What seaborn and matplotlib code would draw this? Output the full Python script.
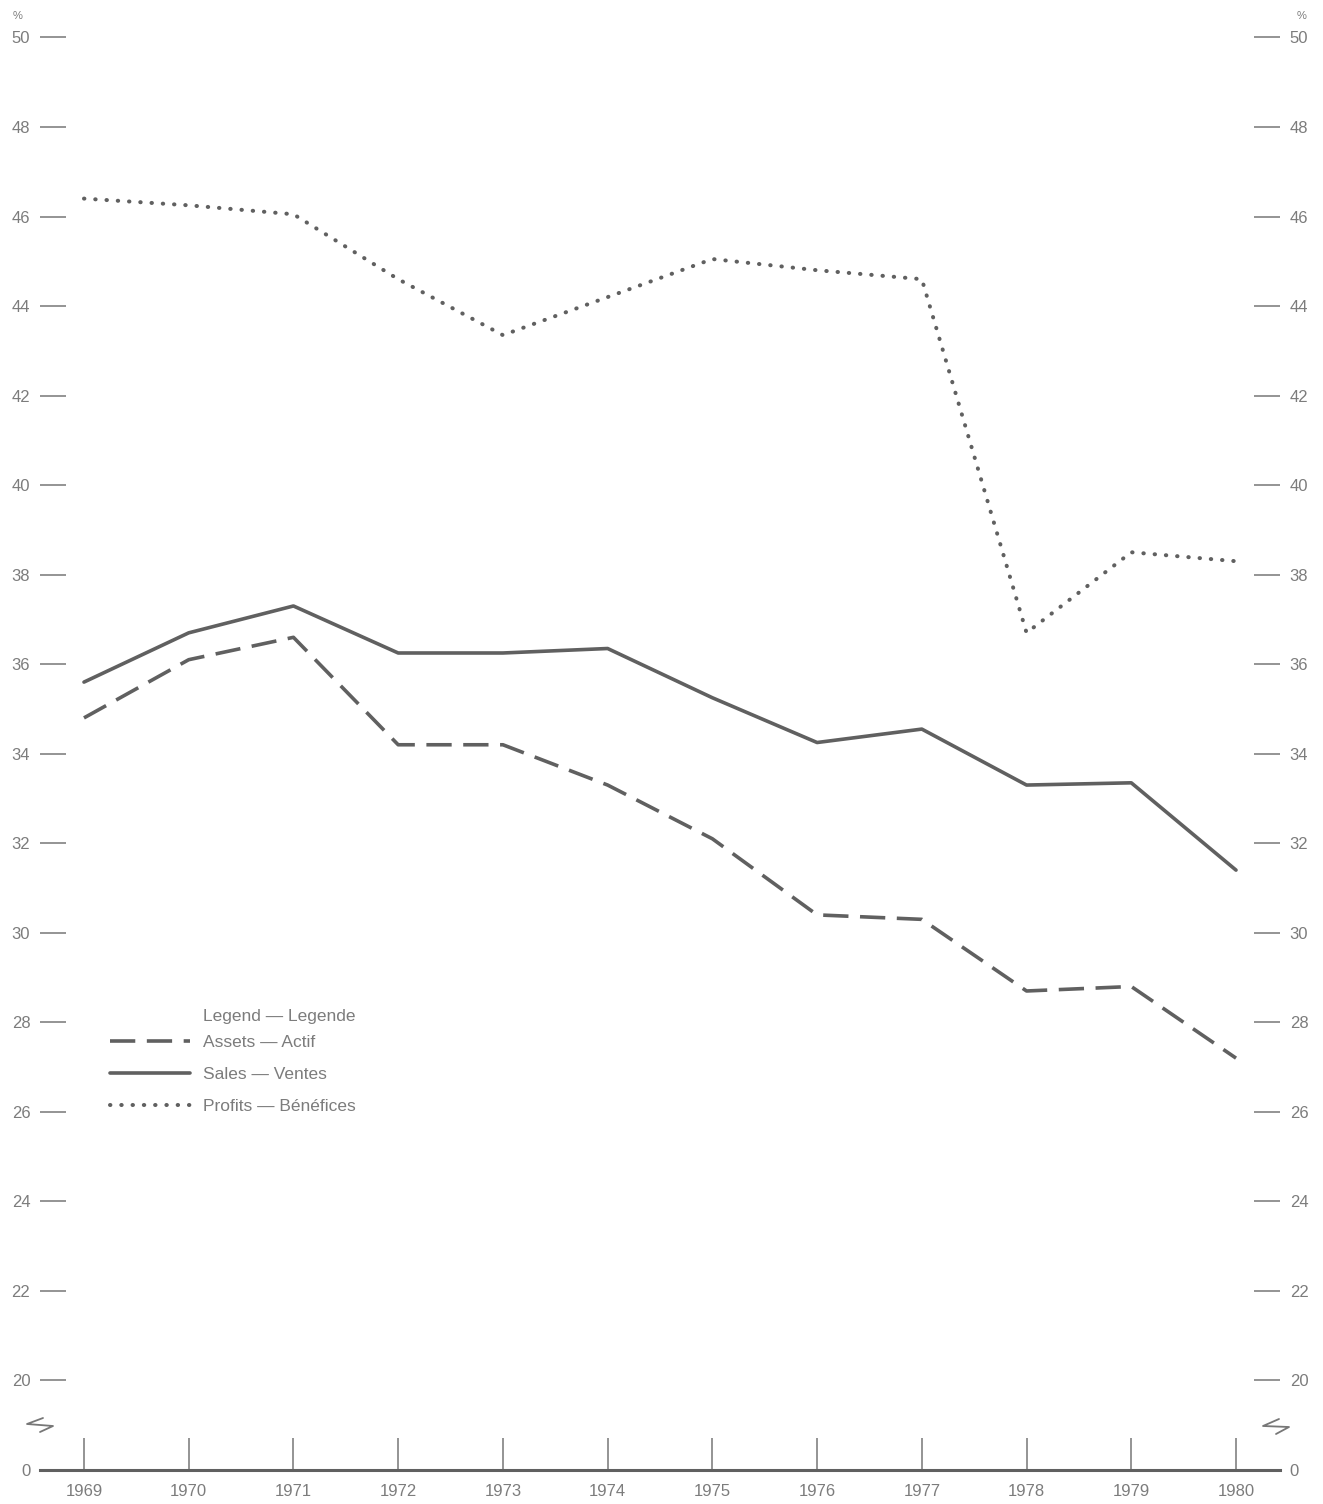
import matplotlib
matplotlib.use("Agg")
import matplotlib.pyplot as plt
import seaborn as sns
import pandas as pd

years = list(range(1969, 1981))
assets = [34.8, 36.1, 36.6, 34.2, 34.2, 33.3, 32.1, 30.4, 30.3, 28.7, 28.8, 27.2]
sales = [35.6, 36.7, 37.3, 36.25, 36.25, 36.35, 35.25, 34.25, 34.55, 33.3, 33.35, 31.4]
profits = [46.4, 46.25, 46.05, 44.6, 43.35, 44.2, 45.05, 44.8, 44.6, 36.7, 38.5, 38.3]

series_names = ["Assets — Actif", "Sales — Ventes", "Profits — Bénéfices"]
y_ticks = list(range(20, 51, 2))

LINE = "#606060"
TEXT = "#7c7c7c"

sns.set_style("white")
plt.rcParams["font.family"] = ["Liberation Sans", "DejaVu Sans"]

W, H = 1323, 1504
fig = plt.figure(figsize=(W / 100, H / 100), dpi=100)

# axes in pixel coords: left 40, right 1280, top 24, bottom 1470
ax = fig.add_axes([40 / W, (H - 1470) / H, 1240 / W, (1470 - 24) / H])

styles = {
    series_names[0]: dict(linestyle=(0, (7, 3.2)), linewidth=2.6),
    series_names[1]: dict(linestyle="-", linewidth=2.6),
    series_names[2]: dict(linestyle=(0, (0.1, 2.7)), linewidth=2.9,
                          dash_capstyle="round"),
}
for name, vals in zip(series_names, [assets, sales, profits]):
    df = pd.DataFrame({"year": years, "value": vals})
    sns.lineplot(data=df, x="year", y="value", ax=ax, color=LINE,
                 label=name, **styles[name])

# y axis is broken: the baseline (0) sits one tick step below 20
ax.set_ylim(18, 50.3)
ax.set_xlim(1968.58, 1980.42)
ax.set_yticks([18] + y_ticks)
ax.set_yticklabels(["0"] + [str(v) for v in y_ticks])
ax.set_xticks(years)
ax.set_xticklabels([str(y) for y in years])
ax.set_xlabel("")
ax.set_ylabel("")

for s in ["top", "left", "right"]:
    ax.spines[s].set_visible(False)
ax.spines["bottom"].set_color(LINE)
ax.spines["bottom"].set_linewidth(2.2)

ax.tick_params(axis="y", which="both", direction="in", length=19, width=1.1,
               color="#777777", labelcolor=TEXT, labelsize=12, pad=7,
               left=True, right=True, labelleft=True, labelright=True)
ax.tick_params(axis="x", direction="in", length=23, width=1.1,
               color="#777777", labelcolor=TEXT, labelsize=12, pad=10,
               bottom=True, labelbottom=True)

# percent signs
fig.text(18 / W, 1 - 16 / H, "%", fontsize=8, color=TEXT, ha="center", va="center")
fig.text(1302 / W, 1 - 16 / H, "%", fontsize=8, color=TEXT, ha="center", va="center")

# axis break marks
for pts in ([(43, 1418), (27, 1424), (53, 1426), (40, 1432)],
            [(1279, 1419), (1263, 1426), (1289, 1427), (1276, 1434)]):
    xs = [p[0] / W for p in pts]
    ys = [1 - p[1] / H for p in pts]
    fig.lines.append(plt.Line2D(xs, ys, transform=fig.transFigure,
                                color="#777777", linewidth=1.3))

# legend
leg = ax.legend(loc="upper left", bbox_to_anchor=(110 / W, 1 - 1035 / H),
                bbox_transform=fig.transFigure, frameon=False, fontsize=12.5,
                handlelength=4.6, handletextpad=0.75, labelspacing=0.96,
                borderpad=0, borderaxespad=0)
for t in leg.get_texts():
    t.set_color(TEXT)
fig.text(203 / W, 1 - 1016 / H, "Legend — Legende", fontsize=12.5, color=TEXT,
         ha="left", va="center")

fig.savefig("out.png", dpi=100, facecolor="white")
